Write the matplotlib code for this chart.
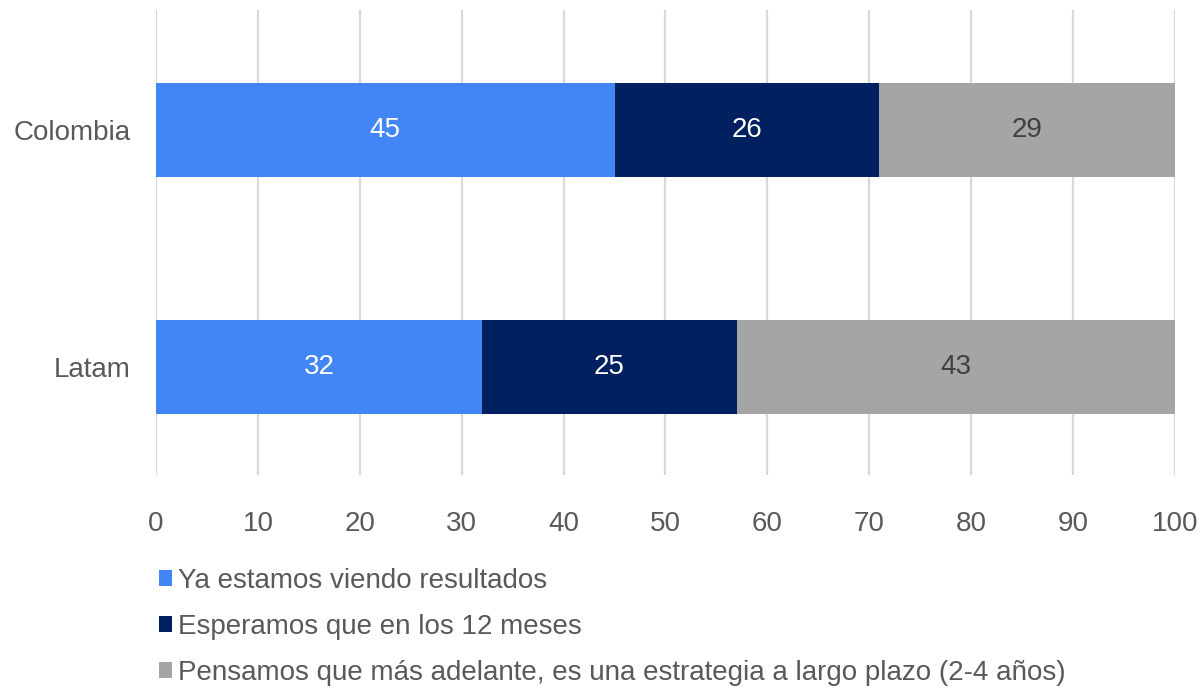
import matplotlib.pyplot as plt
from matplotlib.patches import Patch

# Datos
regiones = ["Latam", "Colombia"]
ya_resultados = [32, 45]
doce_meses = [25, 26]
largo_plazo = [43, 29]
series = [
    ("Ya estamos viendo resultados", ya_resultados, "#4285F4", "white"),
    ("Esperamos que en los 12 meses", doce_meses, "#002060", "white"),
    ("Pensamos que más adelante, es una estrategia a largo plazo (2-4 años)", largo_plazo, "#A5A5A5", "#404040"),
]

plt.rcParams['font.family'] = ['Liberation Sans', 'DejaVu Sans']
GRIS_TEXTO = "#595959"

fig = plt.figure(figsize=(12.02, 6.89), dpi=100)
ax = fig.add_axes([0.1298, 0.3106, 0.8477, 0.6749])

pos = list(range(len(regiones)))
izquierda = [0] * len(regiones)
handles = []
for nombre, valores, color, color_txt in series:
    barras = ax.barh(pos, valores, left=izquierda, height=0.4, color=color, zorder=3)
    ax.bar_label(barras, labels=[str(v) for v in valores], label_type="center",
                 color=color_txt, fontsize=20)
    izquierda = [a + b for a, b in zip(izquierda, valores)]
    handles.append(Patch(facecolor=color, label=nombre))

ax.set_xlim(0, 100)
ax.set_ylim(-0.456, 1.506)
ax.set_xticks(range(0, 101, 10))
ax.set_yticks(pos)
ax.set_yticklabels(regiones)
ax.tick_params(axis="both", length=0, labelsize=20, labelcolor=GRIS_TEXTO)
ax.tick_params(axis="x", pad=26)
ax.tick_params(axis="y", pad=18)
ax.grid(axis="x", color="#D9D9D9", linewidth=1.6, zorder=0)
for s in ax.spines.values():
    s.set_visible(False)

fig.legend(handles=handles, loc="upper left", bbox_to_anchor=(0.132, 0.176),
           frameon=False, fontsize=20, labelcolor=GRIS_TEXTO,
           handlelength=0.48, handleheight=0.48, handletextpad=0.2,
           labelspacing=0.72, borderpad=0, borderaxespad=0)

fig.savefig("out.png", dpi=100)
